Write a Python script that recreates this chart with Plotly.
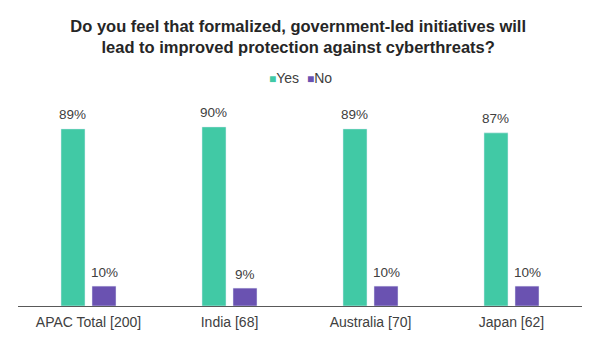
import plotly.graph_objects as go

categories = ["APAC Total [200]", "India [68]", "Australia [70]", "Japan [62]"]
series_names = ["Yes", "No"]
yes_values = [89, 90, 89, 87]
no_values = [10, 9, 10, 10]

title_text = "Do you feel that formalized, government-led initiatives will<br>lead to improved protection against cyberthreats?"

GREEN = "#41C9A5"
PURPLE = "#6A52B1"
TEXT = "#404040"

W, H = 600, 340
ML, MR, MT, MB = 18, 18, 107, 34
BARGAP, GROUPGAP = 0.56, 0.226

fig = go.Figure()
for name, vals, col in [(series_names[0], yes_values, GREEN), (series_names[1], no_values, PURPLE)]:
    fig.add_trace(go.Bar(x=categories, y=vals, name=name, marker_color=col,
                         hoverinfo="x+y"))

# value labels, positioned from the data through the axes
cat_px = (W - ML - MR) / len(categories)
slot = cat_px * (1 - BARGAP) / 2
for i, vals in enumerate([yes_values, no_values]):
    xshift = (-0.5 if i == 0 else 0.5) * slot
    for c, v in zip(categories, vals):
        fig.add_annotation(x=c, y=v, xref="x", yref="y", text=f"{v}%",
                           showarrow=False, xshift=xshift, yshift=14,
                           font=dict(size=13.5, color=TEXT))

# compact legend
legend_html = (f"<span style='color:{GREEN};font-size:12px'>■</span>{series_names[0]}"
               f"&nbsp;&nbsp;<span style='color:{PURPLE};font-size:12px'>■</span>{series_names[1]}")
fig.add_annotation(x=0.5, y=(H - 78 - MB) / (H - MT - MB), xref="paper", yref="paper",
                   xanchor="center", yanchor="middle", showarrow=False,
                   text=legend_html, font=dict(size=14, color=TEXT))

fig.update_layout(
    width=W, height=H,
    margin=dict(l=ML, r=MR, t=MT, b=MB, autoexpand=False),
    paper_bgcolor="white", plot_bgcolor="white",
    font=dict(family="Liberation Sans, Arial, sans-serif", color=TEXT),
    barmode="group", bargap=BARGAP, bargroupgap=GROUPGAP,
    title=dict(text="<b>" + title_text + "</b>", x=0.497, xanchor="center",
               y=1 - 32 / H, yanchor="middle", yref="container",
               font=dict(size=16.5, color="#262626")),
    showlegend=False,
)

fig.update_xaxes(showline=True, linecolor="#595959", linewidth=1.2,
                 tickfont=dict(size=14, color=TEXT), ticks="", showgrid=False,
                 ticklabelstandoff=3, automargin=False)
fig.update_yaxes(range=[0, 100], visible=False, showgrid=False, automargin=False)

fig.write_html("out.html")
